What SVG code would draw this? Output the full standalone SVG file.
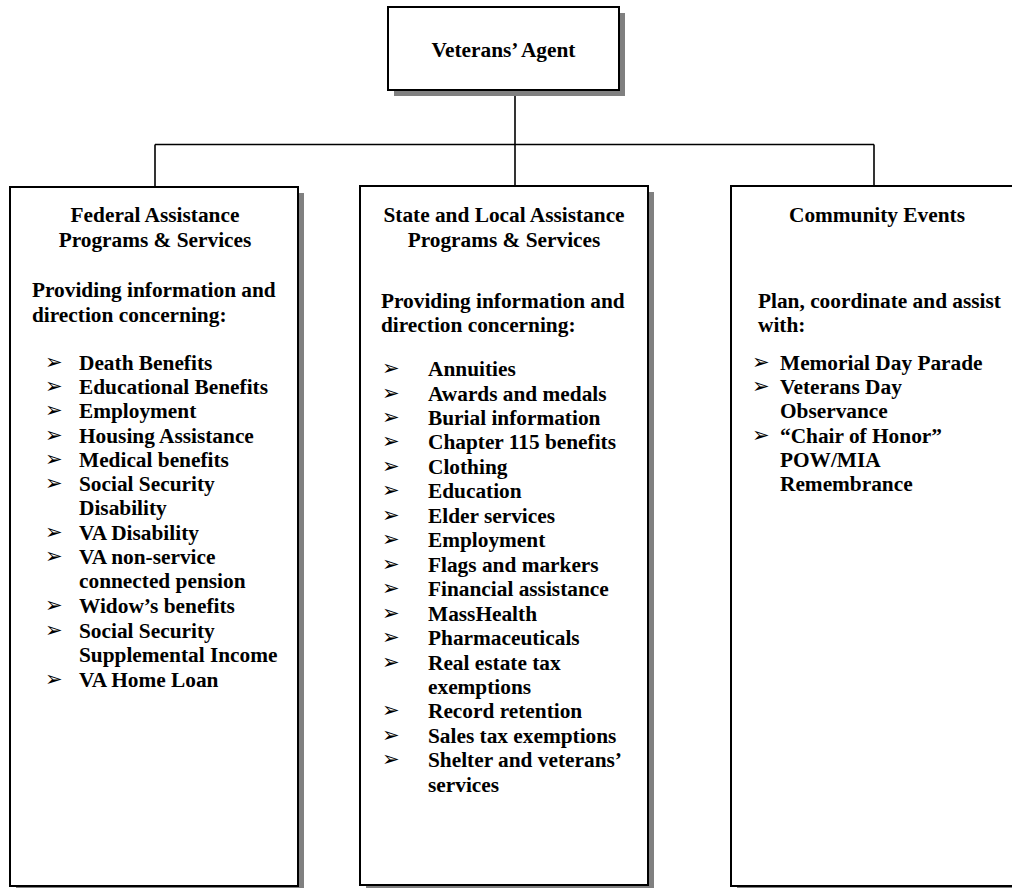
<svg xmlns="http://www.w3.org/2000/svg" width="1012" height="888" viewBox="0 0 1012 888">
  <style>
    .box { fill: #ffffff; stroke: #000000; stroke-width: 2; }
    .shadow { fill: #808080; }
    .wire { fill: none; stroke: #000000; stroke-width: 1.6; }
    text { font-family: "Liberation Serif", "Times New Roman", serif; font-weight: bold; font-size: 21.33px; fill: #000000; }
    .c { text-anchor: middle; }
    .b { font-family: "DejaVu Sans", sans-serif; font-weight: normal; font-size: 21px; }
  </style>
  <rect width="1012" height="888" fill="#ffffff"/>

  <!-- connectors -->
  <g id="connectors">
    <line class="wire" x1="515" y1="90" x2="515" y2="187"/>
    <line class="wire" x1="155" y1="144.5" x2="874" y2="144.5"/>
    <line class="wire" x1="155" y1="144.5" x2="155" y2="188"/>
    <line class="wire" x1="874" y1="144.5" x2="874" y2="187"/>
  </g>

  <!-- top node -->
  <g id="veterans-agent">
    <rect class="shadow" x="394" y="13" width="231" height="83"/>
    <rect class="box" x="388" y="7" width="231" height="83"/>
    <text class="c" x="503.5" y="57">Veterans’ Agent</text>
  </g>

  <!-- federal programs -->
  <g id="federal">
    <rect class="shadow" x="16" y="193" width="288" height="700"/>
    <rect class="box" x="10" y="187" width="288" height="699"/>
    <text class="c" x="155" y="222">Federal Assistance</text>
    <text class="c" x="155" y="247">Programs &amp; Services</text>
    <text x="32" y="297">Providing information and</text>
    <text x="32" y="322">direction concerning:</text>
    <g class="bullets">
      <text class="b" x="45" y="369">➢</text>
      <text class="b" x="45" y="393">➢</text>
      <text class="b" x="45" y="417">➢</text>
      <text class="b" x="45" y="442">➢</text>
      <text class="b" x="45" y="466">➢</text>
      <text class="b" x="45" y="490">➢</text>
      <text class="b" x="45" y="539">➢</text>
      <text class="b" x="45" y="563">➢</text>
      <text class="b" x="45" y="612">➢</text>
      <text class="b" x="45" y="637">➢</text>
      <text class="b" x="45" y="686">➢</text>
    </g>
    <text x="79" y="370">Death Benefits</text>
    <text x="79" y="394">Educational Benefits</text>
    <text x="79" y="418">Employment</text>
    <text x="79" y="443">Housing Assistance</text>
    <text x="79" y="467">Medical benefits</text>
    <text x="79" y="491">Social Security</text>
    <text x="79" y="515">Disability</text>
    <text x="79" y="540">VA Disability</text>
    <text x="79" y="564">VA non-service</text>
    <text x="79" y="588">connected pension</text>
    <text x="79" y="613">Widow’s benefits</text>
    <text x="79" y="638">Social Security</text>
    <text x="79" y="662">Supplemental Income</text>
    <text x="79" y="687">VA Home Loan</text>
  </g>

  <!-- state and local programs -->
  <g id="state-local">
    <rect class="shadow" x="366" y="192" width="288" height="699"/>
    <rect class="box" x="360" y="186" width="288" height="699"/>
    <text class="c" x="504" y="222">State and Local Assistance</text>
    <text class="c" x="504" y="247">Programs &amp; Services</text>
    <text x="381" y="308">Providing information and</text>
    <text x="381" y="332">direction concerning:</text>
    <g class="bullets">
      <text class="b" x="382" y="375">➢</text>
      <text class="b" x="382" y="400">➢</text>
      <text class="b" x="382" y="424">➢</text>
      <text class="b" x="382" y="448">➢</text>
      <text class="b" x="382" y="473">➢</text>
      <text class="b" x="382" y="497">➢</text>
      <text class="b" x="382" y="522">➢</text>
      <text class="b" x="382" y="546">➢</text>
      <text class="b" x="382" y="571">➢</text>
      <text class="b" x="382" y="595">➢</text>
      <text class="b" x="382" y="620">➢</text>
      <text class="b" x="382" y="644">➢</text>
      <text class="b" x="382" y="669">➢</text>
      <text class="b" x="382" y="717">➢</text>
      <text class="b" x="382" y="742">➢</text>
      <text class="b" x="382" y="766">➢</text>
    </g>
    <text x="428" y="376">Annuities</text>
    <text x="428" y="401">Awards and medals</text>
    <text x="428" y="425">Burial information</text>
    <text x="428" y="449">Chapter 115 benefits</text>
    <text x="428" y="474">Clothing</text>
    <text x="428" y="498">Education</text>
    <text x="428" y="523">Elder services</text>
    <text x="428" y="547">Employment</text>
    <text x="428" y="572">Flags and markers</text>
    <text x="428" y="596">Financial assistance</text>
    <text x="428" y="621">MassHealth</text>
    <text x="428" y="645">Pharmaceuticals</text>
    <text x="428" y="670">Real estate tax</text>
    <text x="428" y="694">exemptions</text>
    <text x="428" y="718">Record retention</text>
    <text x="428" y="743">Sales tax exemptions</text>
    <text x="428" y="767">Shelter and veterans’</text>
    <text x="428" y="792">services</text>
  </g>

  <!-- community events -->
  <g id="community">
    <rect class="shadow" x="737" y="192" width="300" height="700"/>
    <rect class="box" x="731" y="186" width="300" height="700"/>
    <text class="c" x="877" y="222">Community Events</text>
    <text x="758" y="308">Plan, coordinate and assist</text>
    <text x="758" y="332">with:</text>
    <g class="bullets">
      <text class="b" x="752" y="369">➢</text>
      <text class="b" x="752" y="393">➢</text>
      <text class="b" x="752" y="442">➢</text>
    </g>
    <text x="780" y="370">Memorial Day Parade</text>
    <text x="780" y="394">Veterans Day</text>
    <text x="780" y="418">Observance</text>
    <text x="780" y="443">“Chair of Honor”</text>
    <text x="780" y="467">POW/MIA</text>
    <text x="780" y="491">Remembrance</text>
  </g>
</svg>
